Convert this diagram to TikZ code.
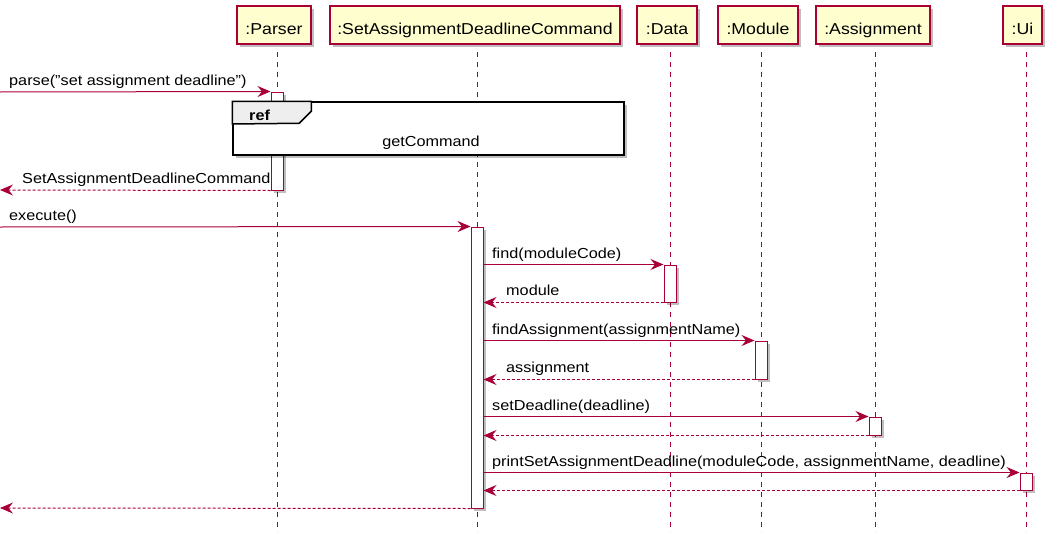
\documentclass[tikz,border=0pt]{standalone}
\usepackage{fontspec}
\setmainfont{Liberation Sans}[FakeStretch=1.12]
\usetikzlibrary{arrows.meta,shadows}
\definecolor{pred}{HTML}{A80036}
\definecolor{pfill}{HTML}{FEFECE}
\definecolor{refhead}{HTML}{EEEEEE}
\begin{document}
\begin{tikzpicture}[x=1pt,y=-1pt,
  part/.style={draw=pred,fill=pfill,line width=1.1pt,minimum height=38pt,inner sep=0pt,
    text height=18pt,text depth=0pt,
    font=\fontsize{15.8}{18}\selectfont,
    drop shadow={shadow xshift=3pt,shadow yshift=-3pt,fill=black,opacity=0.25}},
  life/.style={draw=pred,line width=0.9pt,dash pattern=on 5pt off 5pt},
  act/.style={draw=pred,fill=white,line width=1pt,minimum width=12pt,inner sep=0pt,
    drop shadow={shadow xshift=2.5pt,shadow yshift=-2.5pt,fill=black,opacity=0.25}},
  msg/.style={draw=pred,line width=1pt,-{Stealth[length=13pt,width=11pt,inset=4.5pt]}},
  ret/.style={msg,dash pattern=on 3pt off 2pt},
  lbl/.style={anchor=base west,inner sep=0pt,font=\fontsize{14.5}{16}\selectfont},
]
\useasboundingbox (0,0) rectangle (1057,538);

% participants
\node[part,minimum width=74pt] (par) at (274,25) {:Parser};
\node[part,minimum width=290pt] (cmd) at (475,25) {:SetAssignmentDeadlineCommand};
\node[part,minimum width=60pt] (dat) at (667,25) {:Data};
\node[part,minimum width=80pt] (mod) at (758,25) {:Module};
\node[part,minimum width=114pt] (asg) at (873,25) {:Assignment};
\node[part,minimum width=39pt] (ui) at (1022.5,25) {:Ui};

% lifelines
\foreach \n/\x in {par/277,cmd/477,dat/670,mod/761,asg/875,ui/1026}{
  \coordinate (\n T) at (\x,52);
  \coordinate (\n B) at (\x,532);
  \draw[life] (\n T) -- (\n B);
}

% activations
\node[act,minimum height=98pt] (parA) at (277,141) {};
\node[act,minimum height=281pt] (cmdA) at (477,367.5) {};
\node[act,minimum height=37pt] (datA) at (670,283.5) {};
\node[act,minimum height=38pt] (modA) at (761,360) {};
\node[act,minimum height=18pt] (asgA) at (875,426) {};
\node[act,minimum height=17pt] (uiA) at (1026,481.5) {};

% outside coordinates
\coordinate (o1) at (0,92);
\coordinate (o2) at (0,190);
\coordinate (o3) at (0,227);
\coordinate (o4) at (0,508);

% ref frame
\node[draw=black,line width=1.5pt,fill=white,minimum width=391pt,minimum height=53pt,inner sep=0pt,
  drop shadow={shadow xshift=3pt,shadow yshift=-3pt,fill=black,opacity=0.25}] (ref) at (428.5,128.5) {};
\draw[line width=1.5pt,fill=refhead] (ref.north west) -- ++(79,0) -- ++(0,10) -- ++(-12,12) -- (ref.north west |- 0,124) -- cycle;
\node[anchor=base west,inner sep=0pt,font=\fontsize{14.5}{16}\selectfont\bfseries] (reft) at (249,120) {ref};
\node[anchor=base,inner sep=0pt,font=\fontsize{14.5}{16}\selectfont] (refc) at (431,146) {getCommand};

% messages
\draw[msg] (o1) -- (parA.north west);
\node[lbl] (l1) at (9,85) {parse("set assignment deadline")};
\draw[ret] (parA.south west) -- (o2);
\node[lbl] (l2) at (22,183) {SetAssignmentDeadlineCommand};
\draw[msg] (o3) -- (cmdA.north west);
\node[lbl] (l3) at (9,220) {execute()};

\draw[msg] (cmdA.east |- datA.north) -- (datA.north west);
\node[lbl] (l4) at (492,258) {find(moduleCode)};
\draw[ret] (datA.south west) -- (cmdA.east |- datA.south);
\node[lbl] (l5) at (506,295) {module};

\draw[msg] (cmdA.east |- modA.north) -- (modA.north west);
\node[lbl] (l6) at (492,334) {findAssignment(assignmentName)};
\draw[ret] (modA.south west) -- (cmdA.east |- modA.south);
\node[lbl] (l7) at (506,372) {assignment};

\draw[msg] (cmdA.east |- asgA.north) -- (asgA.north west);
\node[lbl] (l8) at (492,410) {setDeadline(deadline)};
\draw[ret] (asgA.south west) -- (cmdA.east |- asgA.south);

\draw[msg] (cmdA.east |- uiA.north) -- (uiA.north west);
\node[lbl] (l9) at (492,466) {printSetAssignmentDeadline(moduleCode, assignmentName, deadline)};
\draw[ret] (uiA.south west) -- (cmdA.east |- uiA.south);

\draw[ret] (cmdA.south west) -- (o4);
\end{tikzpicture}
\end{document}
